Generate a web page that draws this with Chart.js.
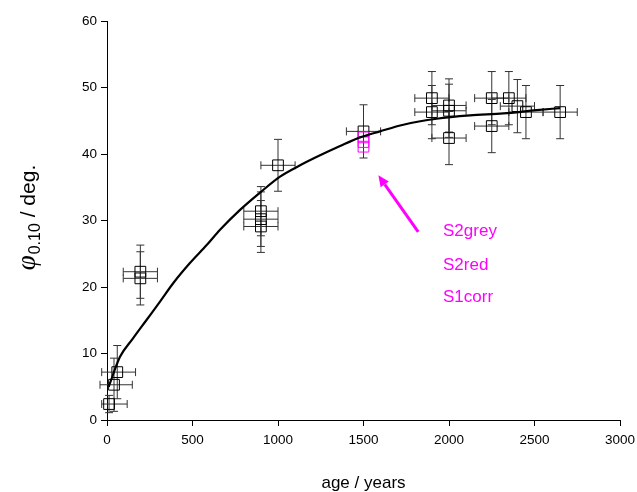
<!DOCTYPE html>
<html><head><meta charset="utf-8">
<script src="https://cdn.jsdelivr.net/npm/chart.js@4"></script>
<style>html,body{margin:0;padding:0;background:#fff}</style>
</head><body>
<canvas id="c" width="637" height="492"></canvas>
<script>
// ---- data ----
const ageYears    = [12, 41, 60, 195, 195, 900, 900, 900, 1000, 1500, 1900, 1900, 2000, 2000, 2000, 2250, 2250, 2350, 2400, 2450, 2650];
const phiDeg      = [2.4, 5.3, 7.2, 22.3, 21.3, 31.4, 30.2, 29.1, 38.3, 43.4, 48.4, 46.3, 47.3, 46.5, 42.4, 48.4, 44.2, 48.4, 47.2, 46.3, 46.3];
const ageErrMinus = [43, 82, 91, 100, 100, 100, 100, 100, 100, 100, 100, 100, 100, 100, 100, 100, 100, 100, 100, 100, 100];
const ageErrPlus  = [106, 107, 107, 100, 100, 100, 100, 100, 100, 100, 100, 100, 100, 100, 100, 100, 100, 100, 100, 100, 100];
const phiErr      = [1.3, 4, 4, 4, 4, 3.7, 4.1, 3.9, 3.9, 4, 4, 4, 4, 4, 4, 4, 4, 4, 4, 4, 4];

const corrAges   = [1500, 1500, 1500];
const corrPhi    = [42.5, 41.8, 41.1];
const corrLabels = ['S2grey', 'S2red', 'S1corr'];

const fitAge = [10, 76, 150, 230, 310, 388, 485, 583, 661, 778, 895, 1012, 1129, 1246, 1363, 1480, 1596, 1733, 1928, 2123, 2318, 2513, 2650];
const fitPhi = [5.0, 9.5, 12.2, 15.0, 17.8, 20.6, 23.6, 26.3, 28.6, 31.6, 34.2, 36.6, 38.3, 39.8, 41.2, 42.5, 43.4, 44.4, 45.3, 45.8, 46.1, 46.6, 46.9];

const xTicks = [0, 500, 1000, 1500, 2000, 2500, 3000];
const yTicks = [0, 10, 20, 30, 40, 50, 60];

const xTitle = 'age / years';
const yTitleParts = ['\u03C6', '0.10', ' / deg.'];
// annotation anchor (data coordinates)
const arrowFrom = {x: 1820, y: 28.3};
const arrowTo   = {x: 1587, y: 36.8};
const labelAnchor = {x: 1965, ys: [28.4, 23.3, 18.5]};

const MAGENTA = '#FF00FF';
const FONT = "'Liberation Sans', Arial, sans-serif";

const errorBars = {
  id: 'errorBars',
  beforeDatasetsDraw(chart) {
    const {ctx, scales: {x, y}} = chart;
    ctx.save();
    ctx.strokeStyle = '#333';
    ctx.lineWidth = 1;
    const cap = 4;
    for (let i = 0; i < ageYears.length; i++) {
      const px = x.getPixelForValue(ageYears[i]);
      const py = y.getPixelForValue(phiDeg[i]);
      const x0 = x.getPixelForValue(ageYears[i] - ageErrMinus[i]);
      const x1 = x.getPixelForValue(ageYears[i] + ageErrPlus[i]);
      const y0 = y.getPixelForValue(phiDeg[i] - phiErr[i]);
      const y1 = y.getPixelForValue(phiDeg[i] + phiErr[i]);
      ctx.beginPath();
      ctx.moveTo(x0, py); ctx.lineTo(x1, py);
      ctx.moveTo(x0, py - cap); ctx.lineTo(x0, py + cap);
      ctx.moveTo(x1, py - cap); ctx.lineTo(x1, py + cap);
      ctx.moveTo(px, y0); ctx.lineTo(px, y1);
      ctx.moveTo(px - cap, y0); ctx.lineTo(px + cap, y0);
      ctx.moveTo(px - cap, y1); ctx.lineTo(px + cap, y1);
      ctx.stroke();
    }
    ctx.restore();
  }
};

const annotations = {
  id: 'annotations',
  afterDraw(chart) {
    const {ctx, scales: {x, y}} = chart;
    ctx.save();
    // arrow
    const ax0 = x.getPixelForValue(arrowFrom.x), ay0 = y.getPixelForValue(arrowFrom.y);
    const ax1 = x.getPixelForValue(arrowTo.x), ay1 = y.getPixelForValue(arrowTo.y);
    const ang = Math.atan2(ay1 - ay0, ax1 - ax0);
    const headLen = 11, headW = 5;
    const bx = ax1 - headLen * Math.cos(ang), by = ay1 - headLen * Math.sin(ang);
    ctx.strokeStyle = MAGENTA; ctx.fillStyle = MAGENTA; ctx.lineWidth = 3;
    ctx.beginPath(); ctx.moveTo(ax0, ay0); ctx.lineTo(bx, by); ctx.stroke();
    ctx.beginPath();
    ctx.moveTo(ax1, ay1);
    ctx.lineTo(bx + headW * Math.sin(ang), by - headW * Math.cos(ang));
    ctx.lineTo(bx - headW * Math.sin(ang), by + headW * Math.cos(ang));
    ctx.closePath(); ctx.fill();
    // labels
    ctx.font = '17px ' + FONT;
    ctx.textAlign = 'left'; ctx.textBaseline = 'middle';
    const lx = x.getPixelForValue(labelAnchor.x);
    corrLabels.forEach((t, i) => ctx.fillText(t, lx, y.getPixelForValue(labelAnchor.ys[i])));
    // y axis title
    ctx.translate(28, 218);
    ctx.rotate(-Math.PI / 2);
    ctx.fillStyle = '#000';
    ctx.textBaseline = 'alphabetic';
    const f0 = "italic 27px 'Liberation Serif', serif";
    const f1 = '16px ' + FONT;
    const f2 = '21px ' + FONT;
    ctx.font = f0; const w0 = ctx.measureText(yTitleParts[0]).width;
    ctx.font = f1; const w1 = ctx.measureText(yTitleParts[1]).width;
    ctx.font = f2; const w2 = ctx.measureText(yTitleParts[2]).width;
    let cx = -(w0 + w1 + w2) / 2;
    const base = 7;
    ctx.font = f0; ctx.fillText(yTitleParts[0], cx, base); cx += w0 + 1;
    ctx.font = f1; ctx.fillText(yTitleParts[1], cx, base + 5); cx += w1;
    ctx.font = f2; ctx.fillText(yTitleParts[2], cx, base);
    ctx.restore();
  }
};

const axisCommon = {
  grid: {display: true, drawOnChartArea: false, drawTicks: true, tickLength: 6, color: '#000', lineWidth: 1},
  border: {display: true, color: '#000', width: 1},
};

new Chart(document.getElementById('c'), {
  type: 'scatter',
  data: {
    datasets: [
      {
        label: 'fit',
        data: fitAge.map((a, i) => ({x: a, y: fitPhi[i]})),
        showLine: true, pointRadius: 0, borderColor: '#000', borderWidth: 2.2,
        cubicInterpolationMode: 'monotone', order: 0, clip: false
      },
      {
        label: 'corr',
        data: corrAges.map((a, i) => ({x: a, y: corrPhi[i]})),
        pointStyle: 'rect', pointRadius: 7.6, borderColor: MAGENTA, borderWidth: 1,
        backgroundColor: 'rgba(0,0,0,0)', order: 1, clip: false
      },
      {
        label: 'data',
        data: ageYears.map((a, i) => ({x: a, y: phiDeg[i]})),
        pointStyle: 'rect', pointRadius: 7.6, borderColor: '#000', borderWidth: 1,
        backgroundColor: 'rgba(0,0,0,0)', order: 2, clip: false
      }
    ]
  },
  options: {
    responsive: false, animation: false, devicePixelRatio: 1,
    layout: {padding: {top: 21, right: 17, bottom: 0, left: 0}},
    plugins: {legend: {display: false}, tooltip: {enabled: false}},
    scales: {
      x: Object.assign({}, axisCommon, {
        type: 'linear', min: 0, max: 3000,
        afterBuildTicks: s => { s.ticks = xTicks.map(v => ({value: v})); },
        ticks: {color: '#000', font: {family: FONT, size: 13.5}, padding: 6, maxRotation: 0, autoSkip: false, callback: v => String(v)},
        title: {display: true, text: xTitle, color: '#000', font: {family: FONT, size: 17, lineHeight: 1}, padding: {top: 0, bottom: 0}},
        afterFit: s => { s.height = 72; s.paddingLeft = 0; s.paddingRight = 0; }
      }),
      y: Object.assign({}, axisCommon, {
        type: 'linear', min: 0, max: 60,
        afterBuildTicks: s => { s.ticks = yTicks.map(v => ({value: v})); },
        ticks: {color: '#000', font: {family: FONT, size: 13.5}, padding: 4, autoSkip: false, callback: v => String(v)},
        afterFit: s => { s.width = 107; s.paddingTop = 0; s.paddingBottom = 0; }
      })
    }
  },
  plugins: [errorBars, annotations]
});
</script>
</body></html>
